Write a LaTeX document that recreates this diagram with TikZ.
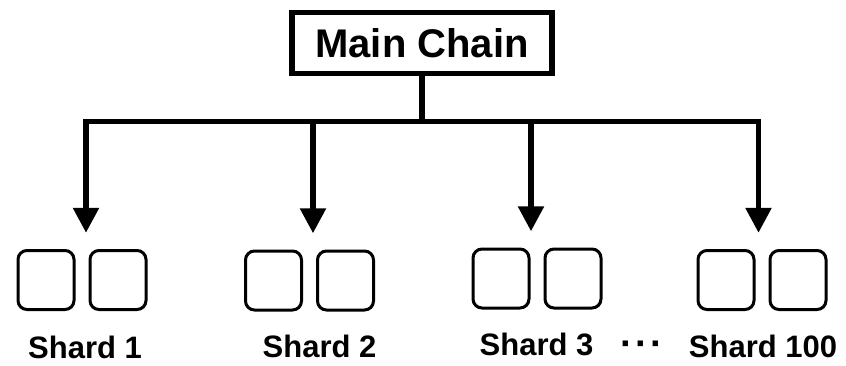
\documentclass[tikz,border=0pt]{standalone}
\usepackage{fontspec}
\setmainfont{Liberation Sans}
\usetikzlibrary{arrows.meta,fit}

\tikzset{
  chainbox/.style={draw, line width=5.5pt, minimum width=260pt, minimum height=61pt,
    inner sep=0pt, font=\fontsize{40}{40}\selectfont\bfseries},
  block/.style={draw, line width=3pt, rounded corners=9pt, minimum width=56pt,
    minimum height=59pt, inner sep=0pt},
  group/.style={inner sep=0pt},
  bus/.style={line width=5.5pt, line cap=rect},
  feed/.style={line width=5.5pt, -{Triangle[width=25pt,length=25pt]}, shorten >=16pt},
  label/.style={anchor=base, inner sep=0pt, font=\fontsize{31}{31}\selectfont\bfseries},
  dots/.style={anchor=base, inner sep=0pt,
    font=\fontsize{38}{38}\selectfont\bfseries\addfontfeature{LetterSpace=6}}
}

\begin{document}
\begin{tikzpicture}[x=1pt,y=-1pt]
  \useasboundingbox (0,0) rectangle (846,365);

  % main chain
  \node[chainbox] (main) at (422,43) {Main Chain};

  % shards: two blocks each
  \foreach \i/\cx/\cy in {1/82/280, 2/309.5/280.5, 3/537/278.5, 4/762/280} {
    \node[block] (s\i a) at (\cx-36,\cy) {};
    \node[block] (s\i b) at (\cx+36,\cy) {};
    \node[group, fit=(s\i a)(s\i b)] (g\i) {};
  }

  % labels
  \node[label] (l1) at (85,358) {Shard 1};
  \node[label] (l2) at (319.5,357) {Shard 2};
  \node[label] (l3) at (536.5,355) {Shard 3};
  \node[label] (l4) at (763,357) {Shard 100};
  \node[dots] (more) at (641.5,356.5) {···};

  % distribution bus
  \coordinate (h1) at (86,121.5);
  \coordinate (h2) at (313,121.5);
  \coordinate (h3) at (531,121.5);
  \coordinate (h4) at (758.5,121.5);
  \coordinate (hm) at (main.south |- h1);

  \draw[bus] (h1) -- (h4);
  \draw[line width=5.5pt] (main.south) -- (hm);
  \foreach \i in {1,2,3,4} {
    \draw[feed] (h\i) -- (h\i |- g\i.north);
  }
\end{tikzpicture}
\end{document}
